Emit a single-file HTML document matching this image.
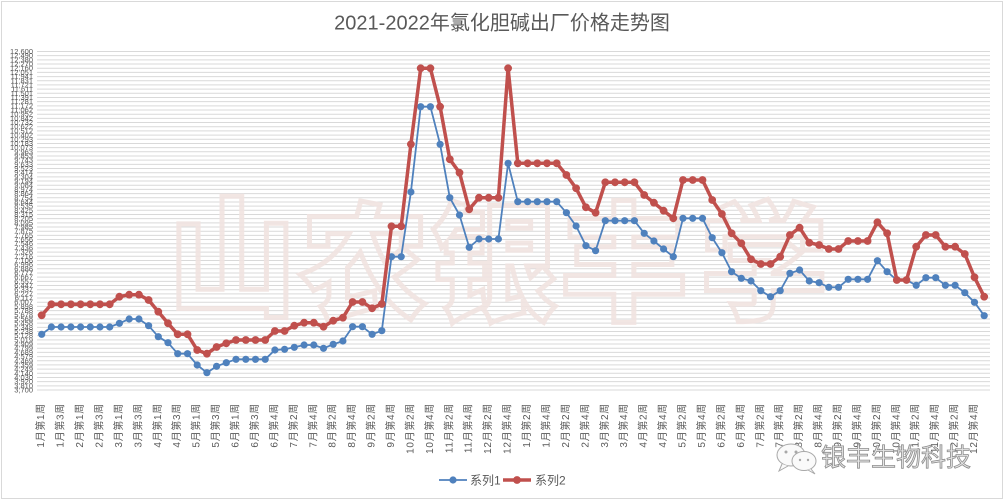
<!DOCTYPE html>
<html><head><meta charset="utf-8">
<style>
html,body{margin:0;padding:0;background:#fff;}
body{width:1005px;height:500px;overflow:hidden;}
svg{display:block;}
.yl{font-family:"Liberation Sans",sans-serif;font-size:7.5px;fill:#595959;text-anchor:end;}
.xl{font-family:"Liberation Sans","Noto Sans CJK SC",sans-serif;font-size:10px;fill:#595959;text-anchor:end;letter-spacing:0.7px;}
</style></head>
<body>
<svg width="1005" height="500" viewBox="0 0 1005 500" xmlns="http://www.w3.org/2000/svg">
<defs>
<marker id="mb" markerUnits="userSpaceOnUse" markerWidth="10" markerHeight="10" viewBox="-5 -5 10 10" refX="0" refY="0"><circle r="3.6" fill="#4F81BD"/></marker>
<marker id="mr" markerUnits="userSpaceOnUse" markerWidth="10" markerHeight="10" viewBox="-5 -5 10 10" refX="0" refY="0"><circle r="3.9" fill="#C0504D"/></marker>
</defs>
<rect x="0" y="0" width="1005" height="500" fill="#fff"/>
<rect x="1.5" y="1.5" width="1001" height="497" fill="none" stroke="#d9d9d9" stroke-width="1"/>
<text x="502" y="29.5" text-anchor="middle" font-family="'Liberation Sans','Noto Sans CJK SC',sans-serif" font-size="20" fill="#595959">2021-2022年氯化胆碱出厂价格走势图</text>

<path fill="none" stroke="#d9d9d9" stroke-width="1" d="M37 390H990M37 385.82H990M37 381.64H990M37 377.46H990M37 373.28H990M37 369.11H990M37 364.93H990M37 360.75H990M37 356.57H990M37 352.39H990M37 348.21H990M37 344.03H990M37 339.85H990M37 335.67H990M37 331.49H990M37 327.32H990M37 323.14H990M37 318.96H990M37 314.78H990M37 310.6H990M37 306.42H990M37 302.24H990M37 298.06H990M37 293.88H990M37 289.7H990M37 285.53H990M37 281.35H990M37 277.17H990M37 272.99H990M37 268.81H990M37 264.63H990M37 260.45H990M37 256.27H990M37 252.09H990M37 247.91H990M37 243.74H990M37 239.56H990M37 235.38H990M37 231.2H990M37 227.02H990M37 222.84H990M37 218.66H990M37 214.48H990M37 210.3H990M37 206.12H990M37 201.95H990M37 197.77H990M37 193.59H990M37 189.41H990M37 185.23H990M37 181.05H990M37 176.87H990M37 172.69H990M37 168.51H990M37 164.33H990M37 160.16H990M37 155.98H990M37 151.8H990M37 147.62H990M37 143.44H990M37 139.26H990M37 135.08H990M37 130.9H990M37 126.72H990M37 122.54H990M37 118.37H990M37 114.19H990M37 110.01H990M37 105.83H990M37 101.65H990M37 97.47H990M37 93.29H990M37 89.11H990M37 84.93H990M37 80.75H990M37 76.58H990M37 72.4H990M37 68.22H990M37 64.04H990M37 59.86H990M37 55.68H990M37 51.5H990"/>

<g font-family="'Liberation Sans','Noto Sans CJK SC',sans-serif" font-weight="900" font-size="128" fill="none" stroke="#f1e4e1" stroke-width="5" opacity="0.9">
<text x="168" y="305">山</text><text x="300" y="310">农</text><text x="430" y="310">银</text><text x="560" y="310">丰</text><text x="700" y="310">学</text>
</g>

<g class="yl">
<text x="33" y="392.5">3,700</text><text x="33" y="388.3">3,810</text><text x="33" y="384.1">3,920</text><text x="33" y="380">4,030</text><text x="33" y="375.8">4,140</text><text x="33" y="371.6">4,249</text><text x="33" y="367.4">4,359</text><text x="33" y="363.3">4,469</text><text x="33" y="359.1">4,579</text><text x="33" y="354.9">4,689</text><text x="33" y="350.7">4,799</text><text x="33" y="346.5">4,909</text><text x="33" y="342.4">5,019</text><text x="33" y="338.2">5,128</text><text x="33" y="334">5,238</text><text x="33" y="329.8">5,348</text><text x="33" y="325.6">5,458</text><text x="33" y="321.5">5,568</text><text x="33" y="317.3">5,678</text><text x="33" y="313.1">5,788</text><text x="33" y="308.9">5,898</text><text x="33" y="304.7">6,007</text><text x="33" y="300.6">6,117</text><text x="33" y="296.4">6,227</text><text x="33" y="292.2">6,337</text><text x="33" y="288">6,447</text><text x="33" y="283.9">6,557</text><text x="33" y="279.7">6,667</text><text x="33" y="275.5">6,777</text><text x="33" y="271.3">6,886</text><text x="33" y="267.1">6,996</text><text x="33" y="263">7,106</text><text x="33" y="258.8">7,216</text><text x="33" y="254.6">7,326</text><text x="33" y="250.4">7,436</text><text x="33" y="246.2">7,546</text><text x="33" y="242.1">7,656</text><text x="33" y="237.9">7,765</text><text x="33" y="233.7">7,875</text><text x="33" y="229.5">7,985</text><text x="33" y="225.3">8,095</text><text x="33" y="221.2">8,205</text><text x="33" y="217">8,315</text><text x="33" y="212.8">8,425</text><text x="33" y="208.6">8,535</text><text x="33" y="204.5">8,644</text><text x="33" y="200.3">8,754</text><text x="33" y="196.1">8,864</text><text x="33" y="191.9">8,974</text><text x="33" y="187.7">9,084</text><text x="33" y="183.6">9,194</text><text x="33" y="179.4">9,304</text><text x="33" y="175.2">9,414</text><text x="33" y="171">9,523</text><text x="33" y="166.8">9,633</text><text x="33" y="162.7">9,743</text><text x="33" y="158.5">9,853</text><text x="33" y="154.3">9,963</text><text x="33" y="150.1">10,073</text><text x="33" y="145.9">10,183</text><text x="33" y="141.8">10,293</text><text x="33" y="137.6">10,402</text><text x="33" y="133.4">10,512</text><text x="33" y="129.2">10,622</text><text x="33" y="125">10,732</text><text x="33" y="120.9">10,842</text><text x="33" y="116.7">10,952</text><text x="33" y="112.5">11,062</text><text x="33" y="108.3">11,172</text><text x="33" y="104.2">11,281</text><text x="33" y="100">11,391</text><text x="33" y="95.8">11,501</text><text x="33" y="91.6">11,611</text><text x="33" y="87.4">11,721</text><text x="33" y="83.3">11,831</text><text x="33" y="79.1">11,941</text><text x="33" y="74.9">12,051</text><text x="33" y="70.7">12,160</text><text x="33" y="66.5">12,270</text><text x="33" y="62.4">12,380</text><text x="33" y="58.2">12,490</text><text x="33" y="54">12,600</text>
</g>

<polyline fill="none" stroke="#4F81BD" stroke-width="1.8" stroke-linejoin="round" marker-start="url(#mb)" marker-mid="url(#mb)" marker-end="url(#mb)" points="41.7,334.3 51.4,327 61.1,327 70.9,327 80.6,327 90.3,327 100,327 109.7,327 119.4,323.3 129.2,319 138.9,319 148.6,325.7 158.3,336.7 168,342.7 177.7,353.7 187.5,353.7 197.2,365 206.9,372.7 216.6,366.3 226.3,362.7 236,359.3 245.8,359.3 255.5,359.3 265.2,359.3 274.9,350 284.6,349.3 294.3,347.3 304.1,345 313.8,345 323.5,348.3 333.2,344.3 342.9,341 352.6,326.7 362.4,326.7 372.1,334.3 381.8,330.7 391.5,256.7 401.2,256.7 410.9,192 420.7,106.7 430.4,106.7 440.1,144.3 449.8,197.7 459.5,215 469.2,247.3 479,239 488.7,239 498.4,239 508.1,163.3 517.8,201.7 527.6,201.7 537.3,201.7 547,201.7 556.7,201.7 566.4,212.7 576.1,226 585.9,245.7 595.6,250.7 605.3,220.7 615,220.7 624.7,220.7 634.4,220.7 644.2,233.3 653.9,241 663.6,249 673.3,256.7 683,218.3 692.7,218.3 702.5,218.3 712.2,237.7 721.9,252.7 731.6,271.7 741.3,278.3 751,281 760.8,290.7 770.5,296.7 780.2,290.7 789.9,273.3 799.6,270 809.3,281 819.1,282.7 828.8,287.3 838.5,287.3 848.2,279.3 857.9,279.3 867.6,279.3 877.4,260.7 887.1,271.7 896.8,280 906.5,280 916.2,285.3 925.9,277.7 935.7,277.7 945.4,285.3 955.1,285.3 964.8,292.7 974.5,302.3 984.2,315.7"/>

<polyline fill="none" stroke="#C0504D" stroke-width="3.5" stroke-linejoin="round" marker-start="url(#mr)" marker-mid="url(#mr)" marker-end="url(#mr)" points="41.7,315.3 51.4,304.3 61.1,304.3 70.9,304.3 80.6,304.3 90.3,304.3 100,304.3 109.7,304.3 119.4,296.7 129.2,294.7 138.9,294.7 148.6,300 158.3,311.7 168,323.3 177.7,334.3 187.5,334.3 197.2,350 206.9,353.7 216.6,347 226.3,343.3 236,340 245.8,340 255.5,340 265.2,340 274.9,331 284.6,331 294.3,325.7 304.1,322.7 313.8,322.7 323.5,326.7 333.2,320.7 342.9,317.7 352.6,302 362.4,302 372.1,308.3 381.8,304 391.5,226.3 401.2,226.3 410.9,144.3 420.7,68.3 430.4,68.3 440.1,106.7 449.8,159.3 459.5,172.7 469.2,209.3 479,197.7 488.7,197.7 498.4,197.7 508.1,68.3 517.8,163.3 527.6,163.3 537.3,163.3 547,163.3 556.7,163.3 566.4,175 576.1,188.3 585.9,207.3 595.6,212.7 605.3,182.3 615,182.3 624.7,182.3 634.4,182.3 644.2,195 653.9,202.7 663.6,210.7 673.3,218.3 683,180 692.7,180 702.5,180 712.2,200 721.9,214 731.6,233.3 741.3,243.3 751,259.3 760.8,264 770.5,264 780.2,256.7 789.9,235 799.6,227.7 809.3,242.7 819.1,245 828.8,249 838.5,249 848.2,241 857.9,241 867.6,241 877.4,222.3 887.1,233.3 896.8,280 906.5,280 916.2,246.7 925.9,235 935.7,235 945.4,246.7 955.1,246.7 964.8,254 974.5,277.3 984.2,296.7"/>

<g class="xl">
<text transform="translate(40.7,403) rotate(-90)" dy="0.35em">1月第1周</text>
<text transform="translate(60.1,403) rotate(-90)" dy="0.35em">1月第3周</text>
<text transform="translate(79.6,403) rotate(-90)" dy="0.35em">2月第1周</text>
<text transform="translate(99,403) rotate(-90)" dy="0.35em">2月第3周</text>
<text transform="translate(118.4,403) rotate(-90)" dy="0.35em">3月第1周</text>
<text transform="translate(137.9,403) rotate(-90)" dy="0.35em">3月第3周</text>
<text transform="translate(157.3,403) rotate(-90)" dy="0.35em">4月第1周</text>
<text transform="translate(176.7,403) rotate(-90)" dy="0.35em">4月第3周</text>
<text transform="translate(196.2,403) rotate(-90)" dy="0.35em">5月第1周</text>
<text transform="translate(215.6,403) rotate(-90)" dy="0.35em">5月第3周</text>
<text transform="translate(235,403) rotate(-90)" dy="0.35em">6月第1周</text>
<text transform="translate(254.5,403) rotate(-90)" dy="0.35em">6月第3周</text>
<text transform="translate(273.9,403) rotate(-90)" dy="0.35em">6月第4周</text>
<text transform="translate(293.3,403) rotate(-90)" dy="0.35em">7月第2周</text>
<text transform="translate(312.8,403) rotate(-90)" dy="0.35em">7月第4周</text>
<text transform="translate(332.2,403) rotate(-90)" dy="0.35em">8月第2周</text>
<text transform="translate(351.6,403) rotate(-90)" dy="0.35em">8月第4周</text>
<text transform="translate(371.1,403) rotate(-90)" dy="0.35em">9月第2周</text>
<text transform="translate(390.5,403) rotate(-90)" dy="0.35em">9月第4周</text>
<text transform="translate(409.9,403) rotate(-90)" dy="0.35em">10月第2周</text>
<text transform="translate(429.4,403) rotate(-90)" dy="0.35em">10月第4周</text>
<text transform="translate(448.8,403) rotate(-90)" dy="0.35em">11月第2周</text>
<text transform="translate(468.2,403) rotate(-90)" dy="0.35em">11月第4周</text>
<text transform="translate(487.7,403) rotate(-90)" dy="0.35em">12月第2周</text>
<text transform="translate(507.1,403) rotate(-90)" dy="0.35em">12月第4周</text>
<text transform="translate(526.6,403) rotate(-90)" dy="0.35em">1月第2周</text>
<text transform="translate(546,403) rotate(-90)" dy="0.35em">1月第4周</text>
<text transform="translate(565.4,403) rotate(-90)" dy="0.35em">2月第2周</text>
<text transform="translate(584.9,403) rotate(-90)" dy="0.35em">2月第4周</text>
<text transform="translate(604.3,403) rotate(-90)" dy="0.35em">3月第2周</text>
<text transform="translate(623.7,403) rotate(-90)" dy="0.35em">3月第4周</text>
<text transform="translate(643.2,403) rotate(-90)" dy="0.35em">4月第2周</text>
<text transform="translate(662.6,403) rotate(-90)" dy="0.35em">4月第4周</text>
<text transform="translate(682,403) rotate(-90)" dy="0.35em">5月第2周</text>
<text transform="translate(701.5,403) rotate(-90)" dy="0.35em">5月第4周</text>
<text transform="translate(720.9,403) rotate(-90)" dy="0.35em">6月第2周</text>
<text transform="translate(740.3,403) rotate(-90)" dy="0.35em">6月第4周</text>
<text transform="translate(759.8,403) rotate(-90)" dy="0.35em">7月第2周</text>
<text transform="translate(779.2,403) rotate(-90)" dy="0.35em">7月第4周</text>
<text transform="translate(798.6,403) rotate(-90)" dy="0.35em">8月第2周</text>
<text transform="translate(818.1,403) rotate(-90)" dy="0.35em">8月第4周</text>
<text transform="translate(837.5,403) rotate(-90)" dy="0.35em">9月第2周</text>
<text transform="translate(856.9,403) rotate(-90)" dy="0.35em">9月第4周</text>
<text transform="translate(876.4,403) rotate(-90)" dy="0.35em">10月第2周</text>
<text transform="translate(895.8,403) rotate(-90)" dy="0.35em">10月第4周</text>
<text transform="translate(915.2,403) rotate(-90)" dy="0.35em">11月第2周</text>
<text transform="translate(934.7,403) rotate(-90)" dy="0.35em">11月第4周</text>
<text transform="translate(954.1,403) rotate(-90)" dy="0.35em">12月第2周</text>
<text transform="translate(973.5,403) rotate(-90)" dy="0.35em">12月第4周</text>
</g>

<!-- legend -->
<line x1="439" y1="480" x2="467" y2="480" stroke="#4F81BD" stroke-width="1.8"/>
<circle cx="453" cy="480" r="3.6" fill="#4F81BD"/>
<text x="470" y="484.5" font-family="'Liberation Sans','Noto Sans CJK SC',sans-serif" font-size="12" fill="#595959">系列1</text>
<line x1="503" y1="480" x2="531" y2="480" stroke="#C0504D" stroke-width="3.5"/>
<circle cx="517" cy="480" r="3.9" fill="#C0504D"/>
<text x="535" y="484.5" font-family="'Liberation Sans','Noto Sans CJK SC',sans-serif" font-size="12" fill="#595959">系列2</text>

<!-- wechat watermark -->
<g fill="#fafafa" stroke="#a8a8a8" stroke-width="1">
<ellipse cx="791" cy="455" rx="14" ry="11"/>
<path d="M782 464 L779 471 L788 466" />
<ellipse cx="804" cy="461" rx="12" ry="9.5"/>
<path d="M811 469 L815 474 L808 470"/>
</g>
<circle cx="786" cy="452" r="1.5" fill="#a8a8a8"/><circle cx="796" cy="452" r="1.5" fill="#a8a8a8"/>
<circle cx="800" cy="460" r="1.2" fill="#a8a8a8"/><circle cx="808" cy="460" r="1.2" fill="#a8a8a8"/>
<text x="821" y="466" font-family="'Liberation Sans','Noto Sans CJK SC',sans-serif" font-size="25" fill="#e6e6e6" stroke="#8c8c8c" stroke-width="0.8">银丰生物科技</text>
</svg>
</body></html>
